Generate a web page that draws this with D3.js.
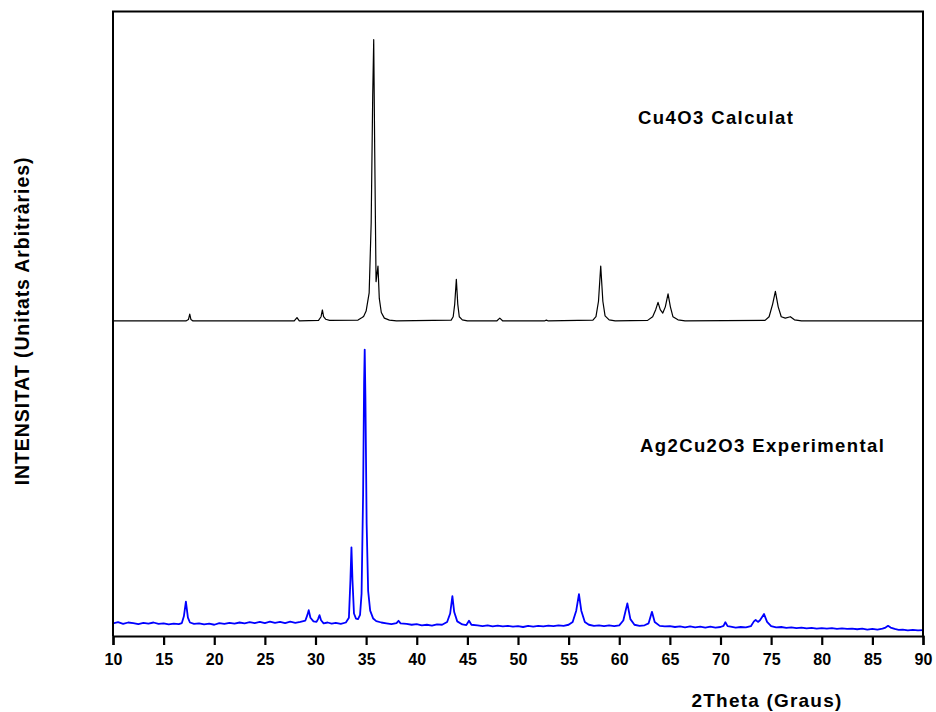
<!DOCTYPE html>
<html>
<head>
<meta charset="utf-8">
<script src="https://cdn.jsdelivr.net/npm/d3@7"></script>
<style>
  body { margin: 0; background: #fff; }
  text { font-family: "Liberation Sans", Arial, sans-serif; }
</style>
</head>
<body>
<script>
// x ticks (2theta)
var xTicks = [10, 15, 20, 25, 30, 35, 40, 45, 50, 55, 60, 65, 70, 75, 80, 85, 90];

// calculated pattern Cu4O3 : [2theta, relative intensity]
var calcPattern = [
  [10, 0], [17.2, 0], [17.45, 0.5], [17.58, 2.4], [17.7, 0.5], [17.9, 0],
  [27.9, 0], [28.17, 1.2], [28.4, 0], [30.3, 0.2], [30.55, 1.5], [30.68, 3.9],
  [30.8, 1.5], [31.0, 0.6], [31.4, 0.2], [34.2, 0.3], [34.6, 1.2], [34.75, 1.6],
  [35.0, 3.5], [35.3, 10], [35.5, 35], [35.65, 80], [35.75, 100], [35.85, 60],
  [35.98, 14], [36.17, 19.5], [36.3, 8], [36.5, 3], [36.8, 1], [37.3, 0.3], [38, 0],
  [43.4, 0.3], [43.6, 1.5], [43.75, 6], [43.91, 14.8], [44.05, 6], [44.2, 1.5],
  [44.5, 0.4], [45, 0], [47.9, 0], [48.2, 1.0], [48.5, 0], [52.6, 0], [52.8, 0.3],
  [53.0, 0], [57.4, 0.3], [57.7, 1.5], [57.95, 7], [58.17, 19.5], [58.38, 7],
  [58.6, 1.8], [59, 0.4], [59.6, 0], [62.8, 0.2], [63.3, 1.5], [63.6, 4],
  [63.83, 6.6], [64.05, 4], [64.3, 2.8], [64.55, 5], [64.82, 9.6], [65.05, 5],
  [65.3, 1.5], [65.8, 0.4], [66.5, 0], [74.4, 0.2], [74.8, 1.5], [75.15, 6],
  [75.42, 10.5], [75.7, 5], [76.0, 1.5], [76.4, 1.0], [76.9, 1.5], [77.3, 0.4],
  [78, 0], [90, 0]
];

// experimental pattern Ag2Cu2O3 : [2theta, intensity]
var expPattern = [
  [10, 4.5], [10.5, 4.9], [11, 4.3], [11.5, 4.8], [12, 4.6], [12.5, 4.2], [13, 4.7],
  [13.5, 4.4], [14, 4.8], [14.5, 4.3], [15, 4.5], [15.5, 4.1], [16, 4.4], [16.5, 4.2],
  [16.8, 4.6], [17.0, 7], [17.2, 12.2], [17.4, 6.5], [17.6, 4.8], [18, 4.3], [18.5, 4.5],
  [19, 4.1], [19.5, 4.4], [20, 4.0], [20.5, 4.6], [21, 4.3], [21.5, 4.7], [22, 4.4],
  [22.5, 4.8], [23, 4.5], [23.5, 4.9], [24, 4.6], [24.5, 5.0], [25, 4.6], [25.5, 5.1],
  [26, 4.7], [26.5, 5.0], [27, 4.6], [27.5, 5.1], [28, 4.7], [28.5, 5.0], [29.0, 5.5],
  [29.2, 7.5], [29.33, 9.2], [29.5, 6.5], [29.8, 5.2], [30.1, 5.0], [30.25, 6],
  [30.4, 7.4], [30.55, 5.6], [30.8, 4.5], [31.2, 4.8], [31.6, 4.4], [32, 4.7],
  [32.5, 4.3], [33.0, 4.8], [33.3, 6.5], [33.45, 20], [33.55, 31.5], [33.65, 20],
  [33.8, 8], [34.0, 6.2], [34.2, 6.0], [34.4, 7.5], [34.55, 15], [34.7, 50],
  [34.8, 90], [34.86, 101.8], [34.93, 85], [35.05, 40], [35.2, 16], [35.4, 9],
  [35.7, 6.2], [36.0, 5.3], [36.5, 4.8], [37, 4.5], [37.5, 4.2], [38, 4.6], [38.2, 5.4],
  [38.4, 4.5], [39, 4.3], [39.5, 4.0], [40, 4.2], [40.5, 3.8], [41, 4.0], [41.5, 3.7],
  [42, 4.1], [42.5, 4.0], [43.0, 5.0], [43.3, 8], [43.52, 14.2], [43.7, 8.5],
  [44.0, 5.2], [44.5, 4.1], [44.9, 3.9], [45.16, 5.4], [45.4, 4.0], [46, 3.8],
  [46.5, 3.5], [47, 3.8], [47.5, 3.4], [48, 3.7], [48.5, 3.4], [49, 3.6], [49.5, 3.3],
  [50, 3.5], [50.5, 3.2], [51, 3.6], [51.5, 3.3], [52, 3.6], [52.5, 3.4], [53, 3.7],
  [53.5, 3.5], [54, 3.8], [54.5, 3.6], [55.0, 4.0], [55.4, 5.0], [55.75, 9],
  [56.02, 14.9], [56.25, 9], [56.6, 5], [57, 4.0], [57.5, 3.6], [58, 3.8], [58.5, 3.5],
  [59, 3.8], [59.5, 3.5], [60.0, 3.8], [60.4, 5.5], [60.8, 11.6], [61.1, 6], [61.5, 4.0],
  [62, 3.6], [62.5, 3.8], [62.9, 4.5], [63.23, 8.6], [63.5, 5], [64, 3.6], [64.5, 3.4],
  [65, 3.5], [65.5, 3.2], [66, 3.4], [66.5, 3.1], [67, 3.4], [67.5, 3.1], [68, 3.3],
  [68.5, 3.0], [69, 3.3], [69.5, 3.0], [70, 3.2], [70.3, 3.6], [70.48, 4.9], [70.7, 3.5],
  [71, 3.3], [71.5, 3.0], [72, 3.2], [72.5, 3.1], [73.0, 3.5], [73.3, 5.2], [73.47, 5.7],
  [73.7, 5.0], [73.9, 5.6], [74.3, 7.8], [74.6, 5], [75.0, 3.5], [75.5, 3.1], [76, 3.2],
  [76.5, 2.9], [77, 3.1], [77.5, 2.8], [78, 3.0], [78.5, 2.7], [79, 2.9], [79.5, 2.6],
  [80, 2.8], [80.5, 2.6], [81, 2.8], [81.5, 2.5], [82, 2.7], [82.5, 2.5], [83, 2.6],
  [83.5, 2.4], [84, 2.6], [84.5, 2.3], [85, 2.5], [85.5, 2.3], [86, 2.6], [86.3, 3.0],
  [86.55, 3.6], [86.8, 3.0], [87.2, 2.5], [87.6, 2.2], [88, 2.3], [88.5, 2.0], [89, 2.2],
  [89.5, 2.0], [90, 2.1]
];

// calculated curve is shifted up above the experimental one
var calcOffset = 112;

var w = 936, h = 712;
var padLeft = 113, padRight = 923, padTop = 11.5, padBottom = 636;

var svg = d3.select("body")
            .append("svg")
            .attr("width", w)
            .attr("height", h);

var xScale = d3.scaleLinear().domain([10, 90]).range([padLeft, padRight]);
var yScale = d3.scaleLinear().domain([0, 222]).range([padBottom, padTop]);

svg.append("clipPath").attr("id", "plotclip")
  .append("rect")
  .attr("x", padLeft).attr("y", padTop)
  .attr("width", padRight - padLeft).attr("height", padBottom - padTop);

var calcLine = d3.line()
  .x(function(d) { return xScale(d[0]); })
  .y(function(d) { return yScale(d[1] + calcOffset); });

var expLine = d3.line()
  .x(function(d) { return xScale(d[0]); })
  .y(function(d) { return yScale(d[1]); });

svg.append("path")
   .datum(calcPattern)
   .attr("clip-path", "url(#plotclip)")
   .attr("fill", "none")
   .attr("stroke", "#000")
   .attr("stroke-width", 1.2)
   .attr("stroke-linejoin", "round")
   .attr("d", calcLine);

svg.append("path")
   .datum(expPattern)
   .attr("clip-path", "url(#plotclip)")
   .attr("fill", "none")
   .attr("stroke", "#0000ff")
   .attr("stroke-width", 1.8)
   .attr("stroke-linejoin", "round")
   .attr("d", expLine);

// frame: top, left, right
svg.append("path")
   .attr("d", "M" + padLeft + "," + padBottom + "V" + padTop + "H" + padRight + "V" + padBottom)
   .attr("fill", "none")
   .attr("stroke", "#000")
   .attr("stroke-width", 2);

// bottom axis
var x_axis = d3.axisBottom(xScale)
  .tickValues(xTicks)
  .tickSize(9)
  .tickPadding(9)
  .tickFormat(d3.format("d"));

var gx = svg.append("g")
   .attr("transform", "translate(0," + padBottom + ")")
   .call(x_axis);

gx.select(".domain").attr("stroke-width", 2.2);
gx.selectAll(".tick line").attr("stroke-width", 2.2);
gx.selectAll(".tick text")
  .attr("fill", "#000")
  .style("font-family", "'Liberation Sans', Arial, sans-serif")
  .style("font-size", "16px")
  .style("font-weight", "bold");

svg.append("text")
   .attr("x", 767)
   .attr("y", 707)
   .attr("text-anchor", "middle")
   .style("font-size", "19px")
   .style("font-weight", "bold")
   .style("letter-spacing", "1.2px")
   .text("2Theta (Graus)");

svg.append("text")
   .attr("transform", "translate(29,321) rotate(-90)")
   .attr("text-anchor", "middle")
   .style("font-size", "19.5px")
   .style("font-weight", "bold")
   .style("letter-spacing", "0.9px")
   .text("INTENSITAT (Unitats Arbitràries)");

svg.append("text")
   .attr("x", 638)
   .attr("y", 124)
   .style("font-size", "18.5px")
   .style("font-weight", "bold")
   .style("letter-spacing", "1.4px")
   .text("Cu4O3 Calculat");

svg.append("text")
   .attr("x", 640)
   .attr("y", 452)
   .style("font-size", "18.5px")
   .style("font-weight", "bold")
   .style("letter-spacing", "1.4px")
   .text("Ag2Cu2O3 Experimental");
</script>
</body>
</html>
